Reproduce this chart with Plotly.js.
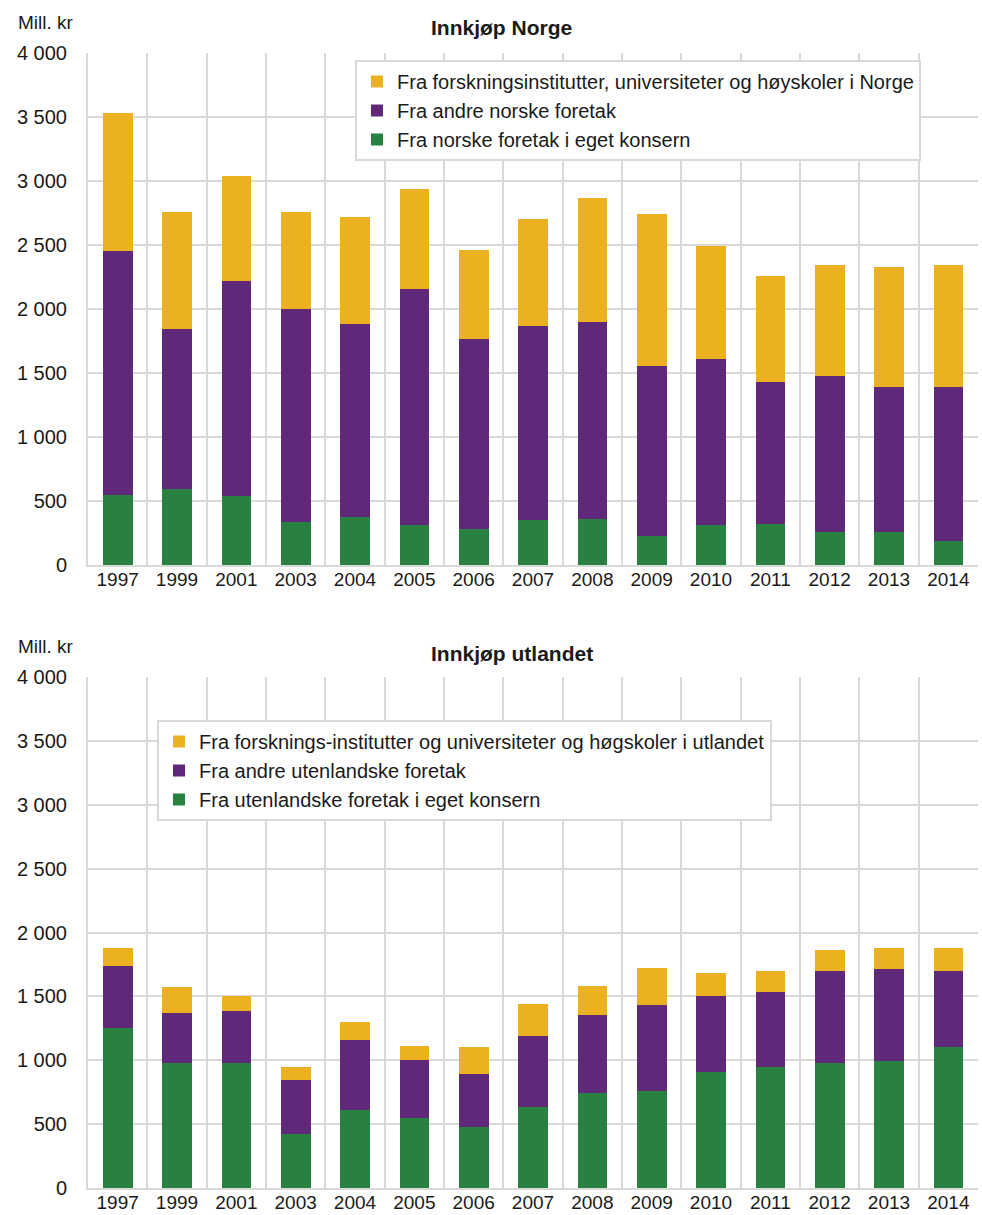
<!DOCTYPE html>
<html><head><meta charset="utf-8">
<script src="https://cdn.plot.ly/plotly-3.0.1.min.js"></script>
<style>html,body{margin:0;padding:0;background:#fff}</style>
</head><body><div id="chart" style="width:982px;height:1215px"></div>
<script>
const years = ['1997','1999','2001','2003','2004','2005','2006','2007','2008','2009','2010','2011','2012','2013','2014'];

// Innkjøp Norge (Mill. kr)
const noKonsern = [545, 595, 540, 335, 375, 310, 280, 350, 360, 225, 310, 320, 260, 260, 185];
const noAndre   = [1910, 1250, 1680, 1665, 1510, 1845, 1485, 1520, 1540, 1330, 1300, 1110, 1220, 1130, 1205];
const noForsk   = [1080, 915, 820, 760, 835, 785, 695, 835, 970, 1190, 885, 830, 865, 940, 955];

// Innkjøp utlandet (Mill. kr)
const utKonsern = [1250, 980, 980, 420, 610, 550, 475, 635, 745, 760, 910, 950, 980, 995, 1100];
const utAndre   = [485, 390, 405, 425, 550, 450, 415, 555, 610, 675, 595, 585, 720, 720, 595];
const utForsk   = [140, 200, 120, 100, 140, 110, 210, 250, 230, 290, 175, 165, 165, 160, 180];

const labelsNo = ['Fra norske foretak i eget konsern','Fra andre norske foretak','Fra forskningsinstitutter, universiteter og høyskoler i Norge'];
const labelsUt = ['Fra utenlandske foretak i eget konsern','Fra andre utenlandske foretak','Fra forsknings-institutter og universiteter og høgskoler i utlandet'];
const colors = ['#288140','#5F2878','#EBB120'];

const traces = [];
[noKonsern, noAndre, noForsk].forEach((v,i)=>traces.push({
  type:'bar', x:years, y:v, name:labelsNo[i], marker:{color:colors[i]},
  xaxis:'x', yaxis:'y', legend:'legend', hoverinfo:'x+y+name'
}));
[utKonsern, utAndre, utForsk].forEach((v,i)=>traces.push({
  type:'bar', x:years, y:v, name:labelsUt[i], marker:{color:colors[i]},
  xaxis:'x2', yaxis:'y2', legend:'legend2', hoverinfo:'x+y+name'
}));

const H = 1215, W = 982;
const FAM = 'Liberation Sans, Arial, sans-serif';
const font = {family:FAM, size:20, color:'#1a1a1a'};
const grid = '#D9D9D9';
const xax = (anchor)=>({
  type:'category', domain:[88/W, 978/W], anchor:anchor, tickson:'boundaries',
  showgrid:true, gridcolor:grid, gridwidth:2, showline:true, linecolor:grid, linewidth:2,
  ticks:'', ticklabelstandoff:-4, tickfont:{family:FAM, size:19, color:'#1a1a1a'}, fixedrange:true
});
const yax = (dom, anchor)=>({
  domain:dom, anchor:anchor, range:[0,4000], dtick:500, tickformat:',d',
  showgrid:true, gridcolor:grid, gridwidth:2, showline:true, linecolor:grid, linewidth:2,
  zeroline:false, ticks:'outside', ticklen:15, tickcolor:'rgba(0,0,0,0)', tickfont:font, fixedrange:true
});

const legendStyle = (x,y)=>({
  x:x, y:y, xref:'paper', yref:'paper', xanchor:'left', yanchor:'top',
  traceorder:'reversed', bgcolor:'#fff', bordercolor:'#D9D9D9', borderwidth:2,
  font:{family:FAM, size:20, color:'#1a1a1a'},
  itemwidth:30, tracegroupgap:0
});

const layout = {
  width:W, height:H, margin:{l:0,r:0,t:0,b:0},
  paper_bgcolor:'#fff', plot_bgcolor:'#fff',
  barmode:'stack', bargap:0.5, separators:', ',
  font:font, showlegend:true,
  xaxis:xax('y'), yaxis:yax([1-565/H, 1-53/H],'x'),
  xaxis2:xax('y2'), yaxis2:yax([1-1188/H, 1-677/H],'x2'),
  legend:legendStyle(355/W, 1-60/H),
  legend2:legendStyle(157/W, 1-720/H),
  annotations:[
    {text:'<b>Innkjøp Norge</b>', x:501/W, y:1-28/H, xref:'paper', yref:'paper', showarrow:false, xanchor:'center', yanchor:'middle', font:{family:FAM, size:21, color:'#1a1a1a'}},
    {text:'Mill. kr', x:16/W, y:1-22/H, xref:'paper', yref:'paper', showarrow:false, xanchor:'left', yanchor:'middle', font:{family:FAM, size:19, color:'#1a1a1a'}},
    {text:'<b>Innkjøp utlandet</b>', x:512/W, y:1-653/H, xref:'paper', yref:'paper', showarrow:false, xanchor:'center', yanchor:'middle', font:{family:FAM, size:21, color:'#1a1a1a'}},
    {text:'Mill. kr', x:16/W, y:1-646/H, xref:'paper', yref:'paper', showarrow:false, xanchor:'left', yanchor:'middle', font:{family:FAM, size:19, color:'#1a1a1a'}}
  ]
};
Plotly.newPlot('chart', traces, layout, {displayModeBar:false, staticPlot:true});
</script></body></html>
